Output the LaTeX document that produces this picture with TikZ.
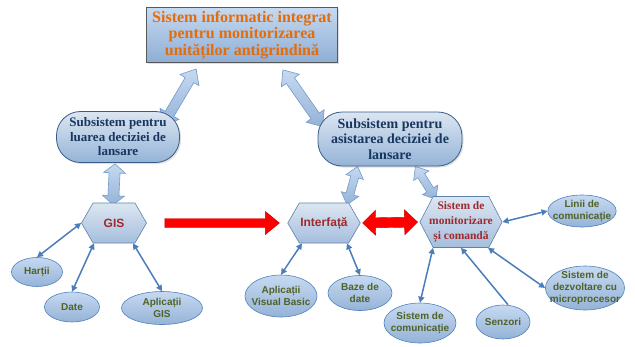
\documentclass[tikz,border=0pt]{standalone}
\usepackage{fontspec}
\setmainfont{Liberation Serif}
\setsansfont{Liberation Sans}
\usepackage{tikz}
\usetikzlibrary{shapes.geometric, shapes.symbols, arrows.meta, positioning, calc, backgrounds, shadows}
\usepackage{xcolor}
\definecolor{titlecolor}{HTML}{E46C0A}
\definecolor{navycolor}{HTML}{17375E}
\definecolor{hexcolor}{HTML}{9E2A2F}
\definecolor{leafcolor}{HTML}{4F6228}
\definecolor{linkcolor}{HTML}{4A7EBB}
\definecolor{paleblue}{HTML}{DCE6F2}
\definecolor{skyblue}{HTML}{C6D9F1}
\definecolor{midblue}{HTML}{95B3D7}
\definecolor{edgeblue}{HTML}{4F81BD}
\definecolor{darkedge}{HTML}{385D8A}

\begin{document}
\begin{tikzpicture}[
    x=1pt, y=-1pt,
    titlebox/.style={rectangle, draw=black!65, line width=0.8pt, top color=skyblue, bottom color=midblue!90!edgeblue,
                     minimum width=191pt, minimum height=54pt, align=center, text=titlecolor,
                     font=\fontsize{16}{16.5}\selectfont\bfseries,
                     drop shadow={opacity=0.25, shadow xshift=1.5pt, shadow yshift=-1.5pt}},
    subsys/.style={rectangle, rounded corners=24pt, draw=darkedge, line width=0.8pt, top color=paleblue,
                   bottom color=midblue, align=center, text=navycolor, inner sep=2pt,
                   drop shadow={opacity=0.25, shadow xshift=1.5pt, shadow yshift=-1.5pt}},
    hexa/.style={signal, signal to=east and west, signal pointer angle=120, draw=edgeblue!70!gray,
                 line width=0.6pt, top color=paleblue, bottom color=midblue!85, text=hexcolor,
                 align=center, inner sep=1pt},
    leaf/.style={ellipse, draw=edgeblue, line width=0.6pt, top color=skyblue, bottom color=midblue,
                 text=leafcolor, align=center, inner xsep=-5pt, inner ysep=-1pt,
                 font=\sffamily\bfseries\fontsize{10}{12}\selectfont},
    link/.style={{Triangle[length=6pt, width=6pt]}-{Triangle[length=6pt, width=6pt]}, line width=1.5pt, linkcolor},
    onelink/.style={-{Triangle[length=6pt, width=6pt]}, line width=1.5pt, linkcolor},
    fatdouble/.style n args={3}{
        to path={let \p1=(\tikztostart), \p2=(\tikztotarget), \n1={atan2(\y2-\y1,\x2-\x1)} in
            (\p1) -- ($(\p1)+(\n1:#3)+(\n1+90:#1)$) -- ($(\p1)+(\n1:#3)+(\n1+90:#2)$)
            -- ($(\p2)+(\n1+180:#3)+(\n1+90:#2)$) -- ($(\p2)+(\n1+180:#3)+(\n1+90:#1)$)
            -- (\p2) -- ($(\p2)+(\n1+180:#3)+(\n1-90:#1)$) -- ($(\p2)+(\n1+180:#3)+(\n1-90:#2)$)
            -- ($(\p1)+(\n1:#3)+(\n1-90:#2)$) -- ($(\p1)+(\n1:#3)+(\n1-90:#1)$) -- cycle}},
    fatsingle/.style n args={3}{
        to path={let \p1=(\tikztostart), \p2=(\tikztotarget), \n1={atan2(\y2-\y1,\x2-\x1)} in
            ($(\p1)+(\n1+90:#2)$) -- ($(\p2)+(\n1+180:#3)+(\n1+90:#2)$) -- ($(\p2)+(\n1+180:#3)+(\n1+90:#1)$)
            -- (\p2) -- ($(\p2)+(\n1+180:#3)+(\n1-90:#1)$) -- ($(\p2)+(\n1+180:#3)+(\n1-90:#2)$)
            -- ($(\p1)+(\n1-90:#2)$) -- cycle}},
    blockarrow/.style={draw=edgeblue!80, line width=0.6pt, top color=skyblue, bottom color=midblue},
    redarrow/.style={draw=red!80!black, line width=0.4pt, fill=red}
]
    \useasboundingbox (0,0) rectangle (635,346);

    % Title
    \node[titlebox] (title) at (242,35) {Sistem informatic integrat\\pentru monitorizarea\\unităților antigrindină};

    % Subsystems
    \node[subsys, minimum width=123pt, minimum height=51pt, font=\fontsize{13}{14.5}\selectfont\bfseries]
        (subL) at (118,137) {Subsistem pentru\\luarea deciziei de\\lansare};
    \node[subsys, minimum width=144pt, minimum height=54pt, font=\fontsize{14}{15.5}\selectfont\bfseries]
        (subR) at (390,139) {Subsistem pentru\\asistarea deciziei de\\lansare};

    % Hexagons
    \node[hexa, minimum width=65pt, minimum height=40pt, font=\sffamily\bfseries\fontsize{12}{14}\selectfont]
        (gis) at (114,223) {GIS};
    \node[hexa, minimum width=68pt, minimum height=40pt, font=\sffamily\bfseries\fontsize{12}{14}\selectfont]
        (iface) at (324,223) {Interfață};
    \node[hexa, signal pointer angle=125, inner xsep=-4pt, minimum width=78pt, minimum height=51pt,
          font=\fontsize{11.5}{15}\selectfont\bfseries]
        (mon) at (461,222) {Sistem de\\monitorizare\\și comandă};

    % Leaves of GIS
    \node[leaf, minimum width=51pt, minimum height=29pt] (hartii) at (37,272) {Harții};
    \node[leaf, minimum width=55pt, minimum height=30pt] (date) at (72,307) {Date};
    \node[leaf, minimum width=81pt, minimum height=33pt] (apgis) at (162,308) {Aplicații\\GIS};

    % Leaves of Interfata
    \node[leaf, minimum width=72pt, minimum height=42pt] (vb) at (281,296) {Aplicații\\Visual Basic};
    \node[leaf, minimum width=64pt, minimum height=35pt] (baze) at (360,293) {Baze de\\date};

    % Leaves of monitoring system
    \node[leaf, minimum width=72pt, minimum height=40pt] (siscom) at (420,323) {Sistem de\\comunicație};
    \node[leaf, minimum width=54pt, minimum height=34pt] (senz) at (503,322) {Senzori};
    \node[leaf, inner xsep=-7pt, inner ysep=-3pt, minimum width=78pt, minimum height=44pt]
        (dezv) at (585,288) {Sistem de\\dezvoltare cu\\microprocesor};
    \node[leaf, minimum width=60pt, minimum height=32pt] (linii) at (582,211) {Linii de\\comunicație};

    % Block arrows
    \begin{scope}[on background layer]
        \draw[blockarrow, fatdouble={11pt}{5pt}{13pt}] ([shift={(-17,14)}]subL.north east) to ([shift={(50,6)}]title.south west);
        \draw[blockarrow, fatdouble={11pt}{5pt}{13pt}] ([shift={(5,15)}]subR.north west) to ([shift={(-55,7)}]title.south east);
        \draw[blockarrow, fatdouble={11pt}{5.5pt}{9pt}] ([shift={(-3,1)}]subL.south) to ([shift={(-1,2)}]gis.north);
        \draw[blockarrow, fatdouble={9pt}{4pt}{11pt}] ([shift={(40,0)}]subR.south west) to ([shift={(23,2)}]iface.north);
        \draw[blockarrow, fatdouble={9pt}{4pt}{11pt}] ([shift={(-47,0)}]subR.south east) to ([shift={(-25,3)}]mon.north);
    \end{scope}

    % Red arrows
    \draw[redarrow, fatsingle={11.5pt}{4.5pt}{14pt}] ([xshift=18pt]gis.east) to ([xshift=-8pt]iface.west);
    \draw[redarrow, fatdouble={12.5pt}{5pt}{13pt}] ([xshift=2pt]iface.east) to ([xshift=-2pt]mon.west);

    % Links
    \draw[link] (hartii.north) -- (gis.west);
    \draw[link] (date.north) -- ([xshift=-20pt]gis.south);
    \draw[link] (apgis.north) -- ([xshift=19pt]gis.south);
    \draw[link] (vb.north) -- ([xshift=-22pt]iface.south);
    \draw[link] (baze.north) -- ([xshift=23pt]iface.south);
    \draw[link] (siscom.north) -- ([xshift=-28pt]mon.south);
    \draw[onelink] ([xshift=5pt]senz.north) -- (mon.south);
    \draw[link] (dezv.west) -- ([xshift=27pt]mon.south);
    \draw[link] (linii.west) -- (mon.east);

\end{tikzpicture}
\end{document}
